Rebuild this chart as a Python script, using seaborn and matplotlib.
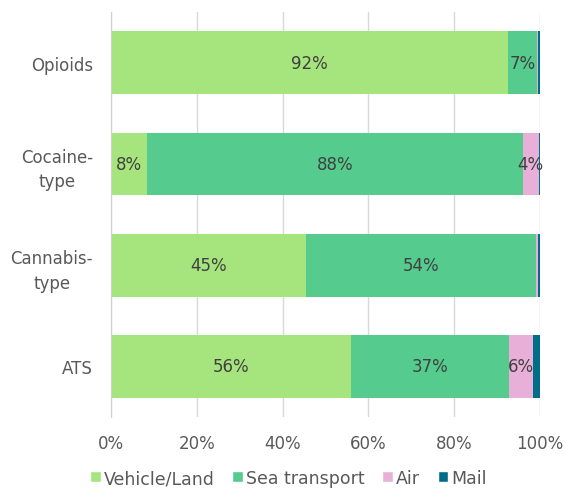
import numpy as np
import pandas as pd
import matplotlib
matplotlib.use("Agg")
import matplotlib.pyplot as plt
import seaborn as sns
from matplotlib.patches import Patch

# data (share of seizures by transport mode, %)
drugs = ["Opioids", "Cocaine-\ntype", "Cannabis-\ntype", "ATS"]
modes = ["Vehicle/Land", "Sea transport", "Air", "Mail"]
vehicle = [92.5, 8.4, 45.4, 56.0]
sea = [6.9, 87.6, 53.6, 36.8]
air = [0.2, 3.7, 0.5, 5.6]
mail = [0.4, 0.3, 0.5, 1.6]
colors = ["#a6e57d", "#55cb8e", "#e8b0d8", "#026d89"]

sns.set_style("white")
plt.rcParams["font.family"] = ["DejaVu Sans"]

df = pd.DataFrame({"drug": drugs, "Vehicle/Land": vehicle, "Sea transport": sea,
                   "Air": air, "Mail": mail})
cum = df[modes].cumsum(axis=1)

fig = plt.figure(figsize=(5.66, 4.89), dpi=100)
ax = fig.add_axes([0.196, 0.145, 0.758, 0.828])

# stacked bars: draw cumulative totals from largest to smallest
for mode, col in reversed(list(zip(modes, colors))):
    sns.barplot(x=cum[mode], y=df["drug"], color=col, width=0.62,
                orient="h", ax=ax, saturation=1, linewidth=0)

# segment labels
starts = cum[modes].values - df[modes].values
for i in range(len(drugs)):
    for j, mode in enumerate(modes):
        v = df[mode].iloc[i]
        if v >= 3:
            ax.text(starts[i, j] + v / 2, i, f"{v:.0f}%", ha="center", va="center",
                    fontsize=12, color="#404040")

ax.set_xlim(0, 100)
ax.set_ylim(3.5, -0.5)
ax.set_xticks(np.arange(0, 101, 20))
ax.set_xticklabels([f"{t}%" for t in range(0, 101, 20)])
ax.xaxis.grid(True, color="#d9d9d9", linewidth=1)
ax.set_axisbelow(True)
for s in ["top", "right", "bottom"]:
    ax.spines[s].set_visible(False)
ax.spines["left"].set_color("#d0d0d0")
ax.tick_params(axis="both", length=0, labelsize=12, labelcolor="#595959")
ax.tick_params(axis="x", pad=12)
ax.tick_params(axis="y", pad=13)
for lbl in ax.get_yticklabels():
    lbl.set_linespacing(1.45)
    lbl.set_multialignment("center")
ax.set_xlabel("")
ax.set_ylabel("")

handles = [Patch(facecolor=c, label=m) for m, c in zip(modes, colors)]
fig.legend(handles=handles, loc="lower center", bbox_to_anchor=(0.51, -0.03), ncol=4,
           frameon=False, handlelength=0.6, handleheight=0.6, handletextpad=0.2,
           columnspacing=1.0, fontsize=12.5, labelcolor="#595959")

fig.savefig("out.png", dpi=100)
